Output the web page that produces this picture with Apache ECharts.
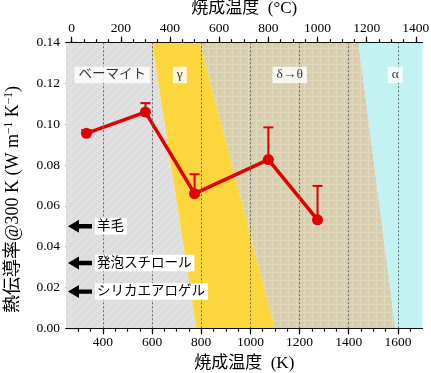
<!DOCTYPE html>
<html>
<head>
<meta charset="utf-8">
<script src="https://cdn.jsdelivr.net/npm/echarts@6/dist/echarts.min.js"></script>
<style>html,body{margin:0;padding:0;background:#fff}#c{width:431px;height:373px}</style>
</head>
<body>
<div id="c"></div>
<script>
// ---- data ----
const tempK = [333, 573, 773, 1073, 1273];
const kappa = [0.0956, 0.106, 0.066, 0.0827, 0.0532];
const kappaUpper = [0.0972, 0.1104, 0.0755, 0.0985, 0.0698];

const phaseNames = ['ベーマイト', 'γ', 'δ→θ', 'α'];
const phaseLabelK = [438, 713, 1160, 1589];
const phaseLabelY = [0.1242, 0.1242, 0.1242, 0.1242];
// phase boundaries (K) at top (0.14) and bottom (0.00)
const boundaryTopK = [600, 795, 1440];
const boundaryBottomK = [780, 1100, 1590];

const refNames = ['羊毛', '発泡スチロール', 'シリカエアロゲル'];
const refValues = [0.050, 0.032, 0.018];

const xMinK = 250, xMaxK = 1700, yMin = 0, yMax = 0.14;
const kTicks = [400, 600, 800, 1000, 1200, 1400, 1600];
const kMinorTicks = [300, 350, 400, 450, 500, 550, 600, 650, 700, 750, 800, 850, 900, 950, 1000, 1050, 1100, 1150, 1200, 1250, 1300, 1350, 1400, 1450, 1500, 1550, 1600, 1650];
const cTicks = [0, 200, 400, 600, 800, 1000, 1200, 1400];
const cMinorTicks = [0, 50, 100, 150, 200, 250, 300, 350, 400, 450, 500, 550, 600, 650, 700, 750, 800, 850, 900, 950, 1000, 1050, 1100, 1150, 1200, 1250, 1300, 1350, 1400];
const kOffset = 273;

// ---- patterns ----
function makePattern(base, draw) {
  const c = document.createElement('canvas');
  c.width = 8; c.height = 8;
  const g = c.getContext('2d');
  g.fillStyle = base; g.fillRect(0, 0, 8, 8);
  draw(g);
  return { image: c, repeat: 'repeat' };
}
const grayPat = makePattern('#dddddd', g => {
  g.strokeStyle = '#e5e5e5'; g.lineWidth = 1.2;
  g.beginPath(); g.moveTo(0, 8); g.lineTo(8, 0); g.moveTo(-4, 4); g.lineTo(4, -4); g.moveTo(4, 12); g.lineTo(12, 4); g.stroke();
});
const tanPat = makePattern('#d8d0b0', g => {
  g.strokeStyle = '#e0d9bd'; g.lineWidth = 1;
  g.beginPath(); g.moveTo(0, 0.5); g.lineTo(8, 0.5); g.moveTo(0.5, 0); g.lineTo(0.5, 8); g.stroke();
  g.strokeStyle = '#d2caa8';
  g.beginPath(); g.moveTo(2, 2); g.lineTo(6, 6); g.moveTo(6, 2); g.lineTo(2, 6); g.stroke();
});
const regionFills = [grayPat, '#fcd63c', tanPat, '#c2f2f2'];

const serif = "'Liberation Serif', 'Noto Sans CJK JP', serif";
const chart = echarts.init(document.getElementById('c'), null, { renderer: 'canvas' });

function regionPolygon(i) {
  const tops = [xMinK].concat(boundaryTopK, [xMaxK]);
  const bots = [xMinK].concat(boundaryBottomK, [xMaxK]);
  return [[tops[i], yMax], [tops[i + 1], yMax], [bots[i + 1], yMin], [bots[i], yMin]];
}
const plain = v => String(v);

const option = {
  animation: false,
  backgroundColor: '#fff',
  grid: { left: 66, right: 8.5, top: 42.7, bottom: 44.7, containLabel: false, outerBoundsMode: 'none' },
  xAxis: [
    {
      type: 'value', position: 'bottom', min: xMinK, max: xMaxK,
      axisLine: { show: true, lineStyle: { color: '#000', width: 1.2 } },
      axisTick: { show: true, customValues: kTicks, length: 6, lineStyle: { color: '#000', width: 1.2 } },
      axisLabel: { customValues: kTicks, formatter: plain, color: '#000', fontSize: 13.5, fontFamily: serif, margin: 7 },
      splitLine: { show: false },
      name: '焼成温度  (K)', nameLocation: 'middle', nameGap: 27,
      nameTextStyle: { color: '#000', fontSize: 17, fontFamily: serif }
    },
    {
      type: 'value', position: 'bottom', min: xMinK, max: xMaxK,
      axisLine: { show: false },
      axisTick: { show: true, customValues: kMinorTicks, length: 3.5, lineStyle: { color: '#000', width: 1.2 } },
      axisLabel: { show: false }, splitLine: { show: false }
    },
    {
      type: 'value', position: 'top', min: xMinK - kOffset, max: xMaxK - kOffset,
      axisLine: { show: true, lineStyle: { color: '#000', width: 1.2 } },
      axisTick: { show: true, customValues: cTicks, length: 6, lineStyle: { color: '#000', width: 1.2 } },
      axisLabel: { customValues: cTicks, formatter: plain, color: '#000', fontSize: 13.5, fontFamily: serif, margin: 7 },
      splitLine: { show: false },
      name: '焼成温度  (°C)', nameLocation: 'middle', nameGap: 26,
      nameTextStyle: { color: '#000', fontSize: 17, fontFamily: serif }
    },
    {
      type: 'value', position: 'top', min: xMinK - kOffset, max: xMaxK - kOffset,
      axisLine: { show: false },
      axisTick: { show: true, customValues: cMinorTicks, length: 3.5, lineStyle: { color: '#000', width: 1.2 } },
      axisLabel: { show: false }, splitLine: { show: false }
    }
  ],
  yAxis: [
    {
      type: 'value', position: 'left', min: yMin, max: yMax, interval: 0.02,
      axisLine: { show: true, lineStyle: { color: '#000', width: 1.2 } },
      axisTick: { show: true, length: 6, lineStyle: { color: '#000', width: 1.2 } },
      minorTick: { show: true, splitNumber: 4, length: 3.5, lineStyle: { color: '#000', width: 1.2 } },
      axisLabel: { color: '#000', fontSize: 13.5, fontFamily: serif, margin: 6, formatter: v => v.toFixed(2) },
      splitLine: { show: false },
      name: '熱伝導率@300 K (W m{s|−1} K{s|−1})', nameLocation: 'middle', nameGap: 42, nameRotate: 90,
      nameTextStyle: {
        color: '#000', fontSize: 18, fontFamily: serif, padding: [0, 28, 0, 0],
        rich: { s: { fontSize: 11.5, fontFamily: serif, color: '#000', verticalAlign: 'top', padding: [0, 0, 9, 0] } }
      }
    },
    {
      type: 'value', position: 'right', min: yMin, max: yMax, interval: 0.02,
      axisLine: { show: true, lineStyle: { color: '#000', width: 1.2 } },
      axisTick: { show: true, length: 6, lineStyle: { color: '#000', width: 1.2 } },
      minorTick: { show: true, splitNumber: 4, length: 3.5, lineStyle: { color: '#000', width: 1.2 } },
      axisLabel: { show: false }, splitLine: { show: false }
    }
  ],
  series: [
    {
      type: 'custom', z: 1, silent: true, clip: true,
      data: phaseNames.map((_, i) => [i]),
      renderItem: (params, api) => {
        const i = api.value(0);
        const pts = regionPolygon(i).map(p => api.coord(p));
        return { type: 'polygon', shape: { points: pts }, style: { fill: regionFills[i], stroke: null } };
      }
    },
    {
      type: 'line', z: 2, data: [], silent: true,
      markLine: {
        silent: true, symbol: ['none', 'none'], label: { show: false },
        lineStyle: { type: [2, 2], color: '#666', width: 1 },
        data: kTicks.map(k => ({ xAxis: k }))
      }
    },
    {
      type: 'custom', z: 3, silent: true,
      data: tempK.map((k, i) => [k, kappa[i], kappaUpper[i]]),
      renderItem: (params, api) => {
        const p0 = api.coord([api.value(0), api.value(1)]);
        const p1 = api.coord([api.value(0), api.value(2)]);
        const st = { stroke: '#e00000', lineWidth: 2 };
        return {
          type: 'group', children: [
            { type: 'line', shape: { x1: p0[0], y1: p0[1], x2: p1[0], y2: p1[1] }, style: st },
            { type: 'line', shape: { x1: p1[0] - 5, y1: p1[1], x2: p1[0] + 5, y2: p1[1] }, style: st }
          ]
        };
      }
    },
    {
      type: 'line', z: 4,
      data: tempK.map((k, i) => [k, kappa[i]]),
      lineStyle: { color: '#e00000', width: 3.5 },
      itemStyle: { color: '#e00000' },
      symbol: 'circle', symbolSize: 11, showSymbol: true
    },
    {
      type: 'scatter', z: 5, silent: true, symbolSize: 0,
      data: phaseLabelK.map((k, i) => ({ value: [k, phaseLabelY[i]], name: phaseNames[i] })),
      label: {
        show: true, position: 'inside', formatter: p => p.name,
        color: '#000', fontSize: 13.5, fontFamily: serif,
        backgroundColor: '#fff', padding: [2, 4, 1, 4]
      }
    },
    {
      type: 'custom', z: 5, silent: true,
      data: refValues.map((v, i) => [xMinK, v, i]),
      renderItem: (params, api) => {
        const p = api.coord([api.value(0), api.value(1)]);
        const x = p[0] + 2, y = p[1];
        const name = refNames[api.value(2)];
        return {
          type: 'group', children: [
            { type: 'polygon', shape: { points: [[x, y], [x + 11, y - 6.5], [x + 11, y - 2.2], [x + 24, y - 2.2], [x + 24, y + 2.2], [x + 11, y + 2.2], [x + 11, y + 6.5]] }, style: { fill: '#000' } },
            { type: 'text', x: x + 27, y: y, style: { text: name, fill: '#000', font: '13.5px ' + serif, verticalAlign: 'middle', align: 'left', backgroundColor: '#fff', padding: [2, 3, 1, 2] } }
          ]
        };
      }
    }
  ]
};
chart.setOption(option);
</script>
</body>
</html>
